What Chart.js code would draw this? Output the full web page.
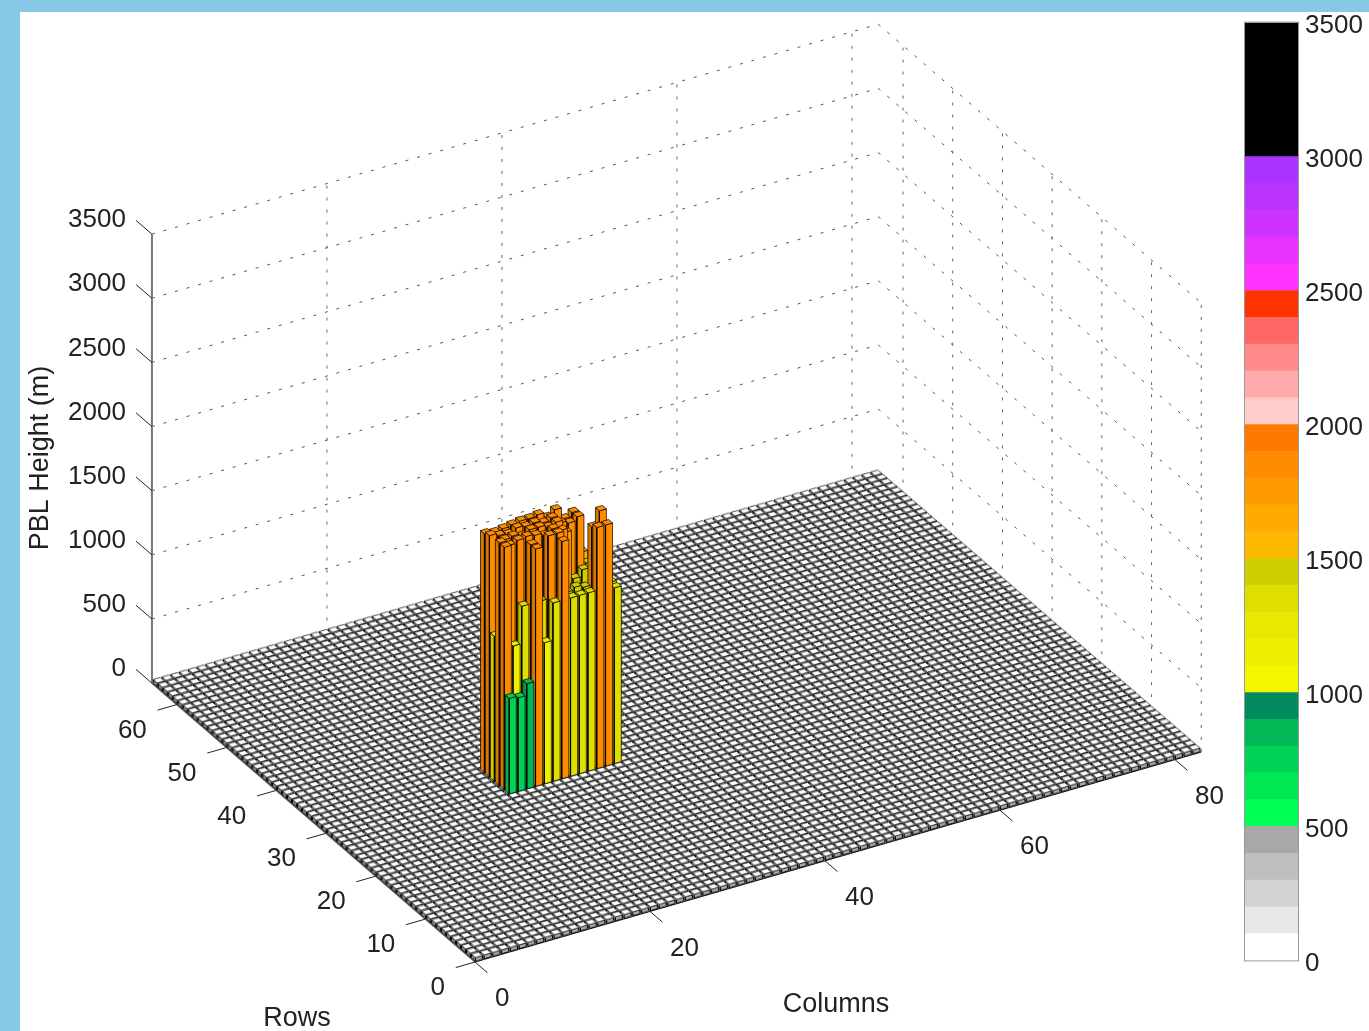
<!DOCTYPE html>
<html>
<head>
<meta charset="utf-8">
<title>PBL Height</title>
<script src="https://cdn.jsdelivr.net/npm/chart.js@4"></script>
<style>
    html, body { margin: 0; padding: 0; width: 1369px; height: 1031px; overflow: hidden; background: #86c9e6; }
    #plot { position: absolute; left: 20px; top: 12px; background: #fff; }
    #colorbar { position: absolute; left: 1235px; top: 0; }
</style>
</head>
<body>
<canvas id="plot" width="1349" height="1019"></canvas>
<canvas id="colorbar" width="134" height="983"></canvas>
<script>
// Bar block (PBL height in m per row)
const barColumns = [20, 21, 22, 23, 24, 25, 26, 27, 28, 29, 30, 31, 32];
const barRows = [28, 29, 30, 31, 32, 33];
const pblRow28 = [745, 730, 820, 1850, 1100, 1390, 1850, 1390, 1390, 1390, 1880, 1880, 1370];
const pblRow29 = [1890, 1100, 1390, 1850, 1390, 1880, 1880, 1400, 1420, 1400, 1850, 1400, 1380];
const pblRow30 = [1890, 1850, 1870, 1880, 1870, 1850, 1880, 1850, 1300, 1350, 1300, 1400, 1300];
const pblRow31 = [1130, 1860, 1870, 1850, 1880, 1880, 1860, 1880, 1780, 1400, 1450, 1300, 1870];
const pblRow32 = [1880, 1860, 1850, 1880, 1870, 1880, 1860, 1880, 1820, 1800, 1830, 1450, 1300];
const pblRow33 = [1860, 1850, 1860, 1870, 1880, 1880, 1890, 1850, 1890, 1800, 1830, 1500, 1400];
const pblRowsData = [pblRow28, pblRow29, pblRow30, pblRow31, pblRow32, pblRow33];

// Axes
const columnTicks = [0, 20, 40, 60, 80];
const rowTicks = [0, 10, 20, 30, 40, 50, 60];
const heightTicks = [0, 500, 1000, 1500, 2000, 2500, 3000, 3500];
const columnMax = 83;
const rowMax = 65;
const heightMax = 3500;
const floorHeight = 30; // every other cell is a nearly flat bar

// Colour bar
const binEdges = [0, 100, 200, 300, 400, 500, 600, 700, 800, 900, 1000, 1100, 1200, 1300, 1400, 1500,
    1600, 1700, 1800, 1900, 2000, 2100, 2200, 2300, 2400, 2500, 2600, 2700, 2800, 2900, 3000, 3500];
const binColors = ["#ffffff", "#e8e8e8", "#d2d2d2", "#bebebe", "#a8a8a8",
    "#00ff55", "#00e655", "#00d255", "#00b855", "#008c5f",
    "#f5f500", "#f0ee00", "#e8e800", "#dede00", "#cfcf00",
    "#ffb900", "#ffaa00", "#ff9b00", "#ff8c00", "#ff7800",
    "#ffcccc", "#ffaaaa", "#ff8888", "#ff6666", "#ff3300",
    "#ff33ff", "#e633ff", "#cc33ff", "#bb33ff", "#aa33ff", "#000000"];

const fontFamily = "'Liberation Sans', Arial, sans-serif";

// Orthographic view of (column, row, height) on the page
function project(col, row, z) {
    return {
        x: 475 + 8.75 * col - 4.97 * row,
        y: 962 - 2.53 * col - 4.29 * row - z * 449 / heightMax
    };
}

function colorFor(h) {
    for (let i = binColors.length - 1; i >= 0; i--) {
        if (h >= binEdges[i]) return binColors[i];
    }
    return binColors[0];
}

function shade(hex, f) {
    const n = parseInt(hex.slice(1), 16);
    const r = Math.round((n >> 16 & 255) * f);
    const g = Math.round((n >> 8 & 255) * f);
    const b = Math.round((n & 255) * f);
    return `rgb(${r},${g},${b})`;
}

const drawList = [];

function addLine(from, to, color, width, dash) {
    drawList.push({
        data: [project(...from), project(...to)],
        borderColor: color,
        borderWidth: width,
        borderDash: dash || [],
        pointRadius: 0,
        showLine: true,
        fill: false
    });
}

function addFace(corners, color) {
    const pts = corners.map(c => project(...c));
    pts.push(pts[0]);
    drawList.push({
        data: pts,
        borderColor: "rgba(0,0,0,0.7)",
        borderWidth: 1,
        backgroundColor: color,
        pointRadius: 0,
        showLine: true,
        fill: "shape"
    });
}

const half = 0.4;

// One flat cell as a sprite, the same for the whole floor
function floorSprite() {
    const size = 28;
    const c = document.createElement("canvas");
    c.width = size;
    c.height = size;
    const g = c.getContext("2d");
    const o = project(0, 0, 0);
    const at = (dc, dr, z) => {
        const p = project(dc, dr, z);
        return [p.x - o.x + size / 2, p.y - o.y + size / 2];
    };
    const face = (corners, fill, edge, width) => {
        g.beginPath();
        corners.forEach((p, i) => (i ? g.lineTo(...p) : g.moveTo(...p)));
        g.closePath();
        g.fillStyle = fill;
        g.fill();
        g.strokeStyle = edge;
        g.lineWidth = width;
        g.stroke();
    };
    const z = floorHeight;
    face([at(-half, -half, 0), at(-half, half, 0), at(-half, half, z), at(-half, -half, z)], "#888", "#000", 1);
    face([at(-half, -half, 0), at(half, -half, 0), at(half, -half, z), at(-half, -half, z)], "#aaa", "#000", 1);
    face([at(-half, -half, z), at(half, -half, z), at(half, half, z), at(-half, half, z)], "#fff", "#222", 0.8);
    return c;
}

// Dotted walls
const dotted = [3, 9];
heightTicks.slice(1).forEach(z => {
    addLine([0, rowMax, z], [columnMax, rowMax, z], "#555", 1, dotted);
    addLine([columnMax, rowMax, z], [columnMax, 0, z], "#555", 1, dotted);
});
columnTicks.slice(1).forEach(c => addLine([c, rowMax, 0], [c, rowMax, heightMax], "#666", 1, dotted));
rowTicks.forEach(r => addLine([columnMax, r, 0], [columnMax, r, heightMax], "#666", 1, dotted));

// Axes and ticks
addLine([0, 0, 0], [columnMax, 0, 0], "#222", 1.2);
addLine([0, 0, 0], [0, rowMax, 0], "#666", 1.5);
addLine([0, rowMax, 0], [0, rowMax, heightMax], "#777", 2);
columnTicks.forEach(c => addLine([c, 0, 0], [c, -2.5, 0], "#222", 1));
rowTicks.forEach(r => addLine([0, r, 0], [-2.2, r, 0], "#222", 1));
heightTicks.forEach(z => addLine([0, rowMax, z], [0, rowMax + 3.2, z], "#222", 1));

// Floor cells, far ones first
const floorPoints = [];
for (let r = rowMax - 1; r >= 0; r--) {
    for (let c = columnMax - 1; c >= 0; c--) {
        floorPoints.push(project(c + 0.5, r + 0.5, 0));
    }
}
drawList.push({
    data: floorPoints,
    pointStyle: floorSprite(),
    pointRadius: 14,
    showLine: false
});

// Bars, back to front so that the near ones cover the far ones
for (let i = barRows.length - 1; i >= 0; i--) {
    for (let j = barColumns.length - 1; j >= 0; j--) {
        const r = barRows[i], c = barColumns[j], h = pblRowsData[i][j];
        const col = colorFor(h);
        const x0 = c - half, x1 = c + half, y0 = r - half, y1 = r + half;
        addFace([[x0, y0, 0], [x0, y1, 0], [x0, y1, h], [x0, y0, h]], shade(col, 0.85));
        addFace([[x0, y0, 0], [x1, y0, 0], [x1, y0, h], [x0, y0, h]], col);
        addFace([[x0, y0, h], [x1, y0, h], [x1, y1, h], [x0, y1, h]], col);
    }
}

// Chart.js paints the first dataset on top
drawList.reverse();

const axisLabels = {
    id: "axisLabels",
    afterDraw(chart) {
        const { ctx, scales } = chart;
        const put = (p, dx, dy, text, align) => {
            ctx.textAlign = align;
            ctx.fillText(text, scales.x.getPixelForValue(p.x) + dx, scales.y.getPixelForValue(p.y) + dy);
        };
        ctx.save();
        ctx.fillStyle = "#222";
        ctx.font = "26px " + fontFamily;
        ctx.textBaseline = "middle";
        heightTicks.forEach(z => put(project(0, rowMax, z), -26, -14, String(z), "right"));
        rowTicks.forEach(r => put(project(0, r, 0), -30, 26, String(r), "right"));
        columnTicks.forEach(c => put(project(c, 0, 0), 20, 37, String(c), "left"));
        ctx.font = "27px " + fontFamily;
        ctx.textAlign = "center";
        ctx.fillText("Rows", scales.x.getPixelForValue(297), scales.y.getPixelForValue(1019));
        ctx.fillText("Columns", scales.x.getPixelForValue(836), scales.y.getPixelForValue(1005));
        ctx.translate(scales.x.getPixelForValue(41), scales.y.getPixelForValue(458));
        ctx.rotate(-Math.PI / 2);
        ctx.fillText("PBL Height (m)", 0, 0);
        ctx.restore();
    }
};

new Chart(document.getElementById("plot"), {
    type: "scatter",
    data: { datasets: drawList },
    options: {
        responsive: false,
        animation: false,
        events: [],
        layout: { padding: 0, autoPadding: false },
        plugins: { legend: { display: false }, tooltip: { enabled: false } },
        scales: {
            x: { type: "linear", min: 20, max: 1369, display: false },
            y: { type: "linear", min: 12, max: 1031, reverse: true, display: false }
        }
    },
    plugins: [axisLabels]
});

const barOutline = {
    id: "barOutline",
    afterDatasetsDraw(chart) {
        const { ctx, chartArea: a } = chart;
        ctx.save();
        ctx.strokeStyle = "#999";
        ctx.lineWidth = 1;
        ctx.strokeRect(a.left - 0.5, a.top - 0.5, a.right - a.left + 1, a.bottom - a.top + 1);
        ctx.restore();
    }
};

new Chart(document.getElementById("colorbar"), {
    type: "bar",
    data: {
        labels: [""],
        datasets: binColors.map((color, i) => ({
            data: [[binEdges[i], binEdges[i + 1]]],
            backgroundColor: color,
            borderWidth: 0,
            grouped: false,
            barPercentage: 1,
            categoryPercentage: 1
        }))
    },
    options: {
        responsive: false,
        animation: false,
        events: [],
        layout: { padding: { left: 10, top: 11, bottom: 10, right: 0 } },
        plugins: { legend: { display: false }, tooltip: { enabled: false } },
        scales: {
            x: { display: false },
            y: {
                position: "right",
                min: 0,
                max: heightMax,
                afterFit: s => { s.width = 71; },
                grid: { display: false, drawTicks: false },
                border: { display: false },
                ticks: {
                    stepSize: 500,
                    autoSkip: false,
                    padding: 7,
                    labelOffset: 3,
                    color: "#222",
                    font: { family: fontFamily, size: 26 },
                    callback: v => String(v)
                }
            }
        }
    },
    plugins: [barOutline]
});
</script>
</body>
</html>
